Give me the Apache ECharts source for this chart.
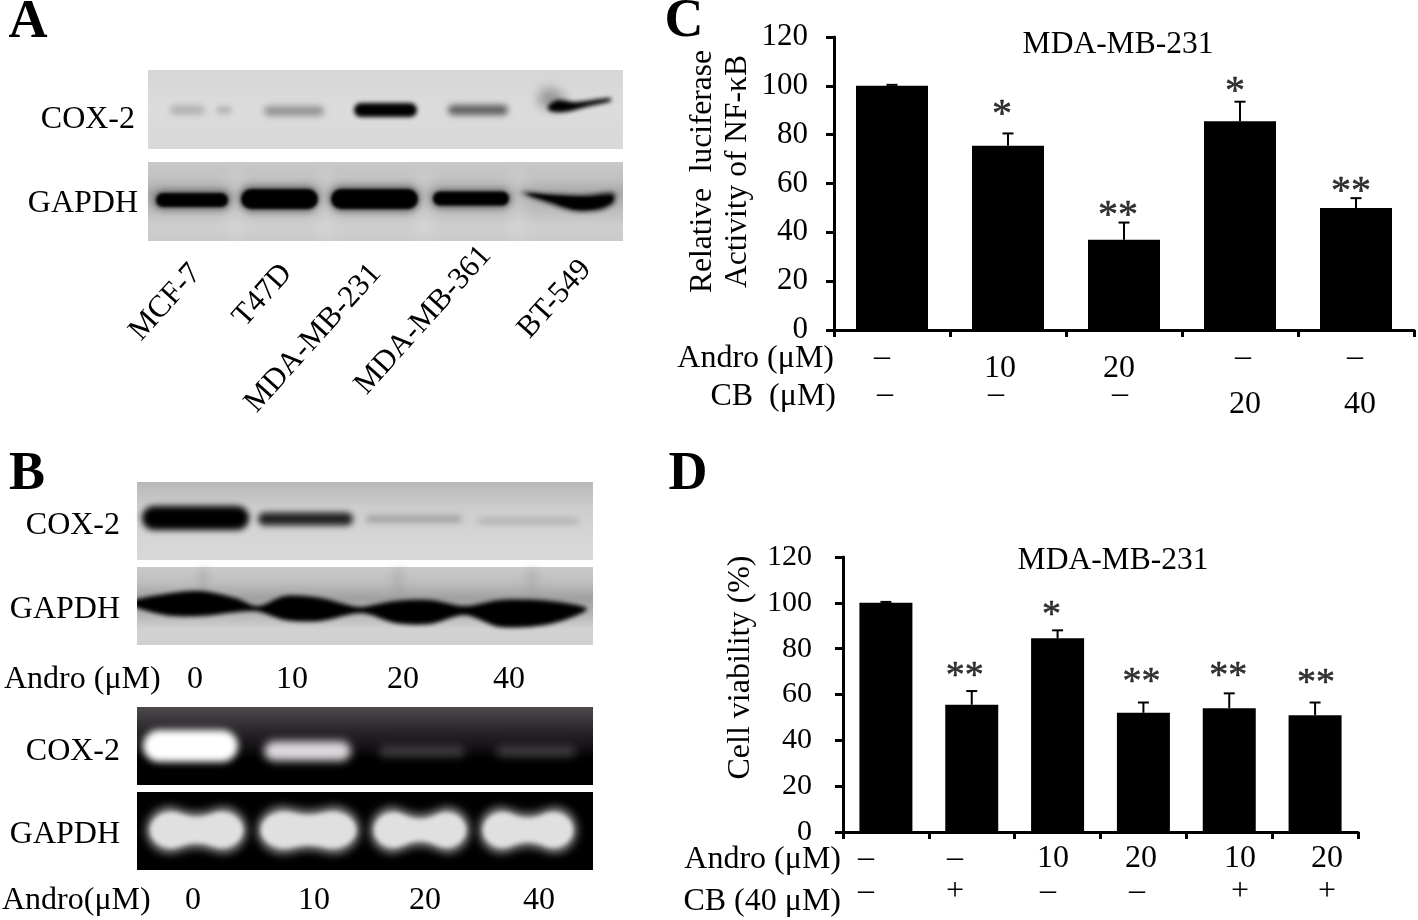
<!DOCTYPE html>
<html><head><meta charset="utf-8">
<style>html,body{margin:0;padding:0;background:#fff}#c{width:1418px;height:920px}</style>
<script src="https://cdn.jsdelivr.net/npm/echarts@6/dist/echarts.min.js"></script>
</head><body><div id="c"></div>
<script>
// ---- Data ----
const catsC = ['1','2','3','4','5'];
const meanC = [100,75.5,37,85.5,50];
const errTopC = [100.4,80.5,44,93.5,54];
const starC = [0,88,46.3,97.4,56.3];
const sigC = ['','*','**','*','**'];
const catsD = ['1','2','3','4','5','6'];
const meanD = [100,55.5,84.5,52,54,51];
const errTopD = [100.4,61.5,88,56.5,60.5,56.5];
const starD = [0,67.5,94.3,64.9,67.5,64.5];
const sigD = ['','**','*','**','**','**'];
const titleCD = 'MDA-MB-231';
const androC = ['–','10','20','–','–'];
const cbC = ['–','–','–','20','40'];
const androD = ['–','–','10','20','10','20'];
const cbD = ['–','+','–','–','+','+'];
const cellLines = ['MCF-7','T47D','MDA-MB-231','MDA-MB-361','BT-549'];
const doseB = ['0','10','20','40'];

// ---- Helpers ----
const F = '"Liberation Serif","Times New Roman",serif';
const FS = 32;
const OFF = 3000; // blurred shapes are drawn off-canvas, only their shadow lands on the picture
const T = (text,x,y,size,o={}) => ({type:'text',x,y:y+1.5,rotation:o.rot||0,z:10,silent:true,
  style:{text,fill:'#000',font:(o.bold?'bold ':'')+size+'px '+F,textAlign:o.align||'center',textVerticalAlign:'middle'}});
const frame = (x,y,w,h,stops) => ({type:'rect',z:1,silent:true,shape:{x,y,width:w,height:h},
  style:{fill:new echarts.graphic.LinearGradient(0,0,0,1,stops.map((c,i)=>({offset:i/(stops.length-1),color:c})))}});
const band = (x0,x1,cy,h,color,b) => ({type:'rect',z:2,silent:true,
  shape:{x:x0-OFF,y:cy-h/2,width:x1-x0,height:h,r:h/2},
  style:{fill:'#000',shadowBlur:b,shadowColor:color,shadowOffsetX:OFF}});
const blob = (pts,color,b,s=0.3) => ({type:'polygon',z:2,silent:true,shape:{points:pts.map(p=>[p[0]-OFF,p[1]]),smooth:s},
  style:{fill:'#000',shadowBlur:b,shadowColor:color,shadowOffsetX:OFF}});
const bow = (x0,x1,cy,hEnd,hMid,color,b) => {
  const m=(x0+x1)/2, e=(x1-x0)*0.16;
  return blob([[x0,cy],[x0+e,cy-hEnd/2],[m,cy-hMid/2],[x1-e,cy-hEnd/2],[x1,cy],[x1-e,cy+hEnd/2],[m,cy+hMid/2],[x0+e,cy+hEnd/2]],color,b,0.45);
};
const mask = (x,y,w,h) => ({type:'rect',z:3,silent:true,shape:{x,y,width:w,height:h},style:{fill:'#fff'}});

const g = [];
// Panel letters
g.push(T('A',28,22,54,{bold:true}),T('B',27,474,54,{bold:true}),T('C',684,21,54,{bold:true}),T('D',688,474,54,{bold:true}));

// Panel A blots
g.push(frame(148,70,475,79,['#d6d6d6','#dcdcdc','#d8d8d8']));
g.push(frame(148,162,475,79,['#c8c8c8','#c2c2c2','#a8a8a8','#bcbcbc','#cecece','#cacaca']));
[236,326,424,518].forEach(x=>g.push(band(x-6,x+6,205,66,'rgba(226,226,226,0.45)',14)));
g.push(band(170,205,110,9,'#b0b0b0',6),band(216,232,110,8,'#b8b8b8',5));
g.push(band(264,324,111,10,'#949494',6));
g.push(band(354,417,110,14,'#000',4));
g.push(band(448,508,110,10,'#5c5c5c',6));
g.push(blob([[540,106],[540,92],[552,88],[566,100],[556,108]],'rgba(130,130,130,0.8)',12));
g.push(blob([[548,106],[558,100],[575,102],[610,98],[611,101],[590,106],[565,112],[550,111]],'#000',4));
g.push(band(153,231,200,19,'#666',7),band(239,319,199,25,'#666',7),band(329,420,199,25,'#666',7),band(431,511,199,18,'#666',7));
g.push(band(156,228,200,14,'#000',3),band(241,318,199,20,'#000',3),band(331,418,199,20,'#000',3),band(433,509,198.5,14,'#000',3));
g.push(blob([[521,192],[548,194],[585,195],[614,193],[614,203],[600,210],[575,211],[548,203]],'#222',5));
g.push(blob([[527,194],[555,196],[585,197],[612,196],[611,202],[597,208],[575,209],[550,201]],'#000',3));
const endA = [[196,267],[287,267],[376,267],[486,249],[586,263]];
cellLines.forEach((s,i)=>g.push(T(s,endA[i][0],endA[i][1],31,{align:'right',rot:48*Math.PI/180})));
g.push(T('COX-2',135,118,FS,{align:'right'}),T('GAPDH',138,202,FS,{align:'right'}));

// Panel B blots
g.push(frame(137,482,456,78,['#b8b8b8','#cdcdcd','#d5d5d5','#d8d8d8']));
g.push(frame(137,567,456,78,['#cacaca','#bebebe','#a0a0a0','#b4b4b4','#d2d2d2','#d0d0d0']));
[203,398,532].forEach(x=>g.push(band(x-4,x+4,582,28,'rgba(150,150,150,0.45)',10)));
g.push(band(142,249,518,24,'#000',6));
g.push(band(258,353,519,13,'#202020',6));
g.push(band(366,462,519,6,'#9a9a9a',6),band(478,578,521,5,'#aaaaaa',6));
g.push(blob([[128,603],[165,594],[200,591],[235,598],[258,606],[285,596],[320,598],[352,606],[362,607],[395,601],[430,600],[465,606],[500,600],[550,601],[587,609],[550,624],[500,627],[465,615],[430,624],[395,623],[362,613],[320,621],[285,620],[255,611],[200,616],[165,615]],'#000',4));
g.push(mask(118,590,19,40));
g.push(frame(137,707,456,78,['#4e4a4e','#3a363a','#262326','#141214','#000000','#000000','#000000']));
g.push(frame(137,792,456,78,['#000000','#000000']));
g.push(band(143,238,746,32,'#ffffff',7),band(264,351,751,20,'#dcd8dc',8),band(379,465,751,12,'#3c383c',8),band(496,576,751,12,'#3c383c',8));
g.push(mask(137,785,456,7));
const gelB=[[148,245,26],[259,358,30],[372,468,22],[481,575,24]];
gelB.forEach(b=>g.push(bow(b[0]-2,b[1]+2,830,44,b[2]+10,'#8a8a8a',9)));
gelB.forEach(b=>g.push(bow(b[0]+2,b[1]-2,830,34,b[2],'#e0e0e0',4)));
g.push(T('COX-2',120,524,FS,{align:'right'}),T('GAPDH',120,608,FS,{align:'right'}),T('COX-2',120,750,FS,{align:'right'}),T('GAPDH',120,833,FS,{align:'right'}));
g.push(T('Andro (μM)',4,678,FS,{align:'left'}),T('Andro(μM)',2,899,FS,{align:'left'}));
const xB1=[195,292,403,509], xB2=[193,314,425,539];
doseB.forEach((s,i)=>{g.push(T(s,xB1[i],678,FS),T(s,xB2[i],899,FS));});

// Panel C text
g.push(T(titleCD,1118,43,31.5),T('Relative  luciferase',703,170,31.5,{rot:Math.PI/2}),T('Activity of NF-κB',738,170,31.5,{rot:Math.PI/2}));
g.push(T('Andro (μM)',834,357,FS,{align:'right'}),T('CB  (μM)',836,395,FS,{align:'right'}));
const xCa=[882,1000,1119,1243,1355], xCb=[885,996,1120,1245,1360];
androC.forEach((s,i)=>g.push(T(s,xCa[i],s==='–'?356:367,FS)));
cbC.forEach((s,i)=>g.push(T(s,xCb[i],s==='–'?393:403,FS)));

// Panel D text
g.push(T(titleCD,1113,559,31.5),T('Cell viability (%)',741,666,32,{rot:Math.PI/2}));
g.push(T('Andro (μM)',841,858,FS,{align:'right'}),T('CB (40 μM)',841,900,FS,{align:'right'}));
const xDa=[866,955,1053,1141,1240,1327], xDb=[866,955,1048,1137,1240,1327];
androD.forEach((s,i)=>g.push(T(s,xDa[i],857,FS)));
cbD.forEach((s,i)=>g.push(T(s,xDb[i],890,FS)));

const errRender = (params,api)=>{
  const x=api.coord([api.value(0),api.value(1)]), y=api.coord([api.value(0),api.value(2)]);
  const st={stroke:'#000',lineWidth:2,fill:null};
  return {type:'group',children:[
    {type:'line',shape:{x1:x[0],y1:x[1],x2:y[0],y2:y[1]},style:st},
    {type:'line',shape:{x1:y[0]-5.5,y1:y[1],x2:y[0]+5.5,y2:y[1]},style:st}]};
};
const xAxis = (gi,cats)=>({type:'category',gridIndex:gi,data:cats,boundaryGap:true,
  axisLine:{show:true,lineStyle:{color:'#000',width:3}},axisTick:{show:true,inside:false,length:7,alignWithLabel:false,lineStyle:{color:'#000',width:3}},axisLabel:{show:false},splitLine:{show:false}});
const yAxis = (gi,fs,mg)=>({type:'value',gridIndex:gi,min:0,max:120,interval:20,
  axisLine:{show:true,lineStyle:{color:'#000',width:3}},axisTick:{show:true,length:8,lineStyle:{color:'#000',width:3}},
  axisLabel:{show:true,color:'#000',fontFamily:F,fontSize:fs,margin:mg,padding:[4,0,0,0]},splitLine:{show:false}});
const bar=(gi,d,w)=>({type:'bar',xAxisIndex:gi,yAxisIndex:gi,data:d,barWidth:w,itemStyle:{color:'#000'},silent:true,animation:false});
const err=(gi,m,t)=>({type:'custom',xAxisIndex:gi,yAxisIndex:gi,data:m.map((v,i)=>[i,v,t[i]]),renderItem:errRender,silent:true,animation:false,z:5});
const stars=(gi,t,sig,dx,fs)=>({type:'scatter',xAxisIndex:gi,yAxisIndex:gi,symbolSize:0,silent:true,animation:false,z:6,
  data:t.map((v,i)=>({value:[i,v],label:{formatter:sig[i],offset:[dx[i],0]}})),
  label:{show:true,position:'inside',color:'#000',fontFamily:F,fontSize:fs,textBorderColor:'#000',textBorderWidth:0.5}});

const chart=echarts.init(document.getElementById('c'),null,{renderer:'canvas'});
chart.setOption({
  animation:false,backgroundColor:'#fff',
  grid:[{left:834,top:37,width:580,height:293},{left:843,top:557,width:515,height:275}],
  xAxis:[xAxis(0,catsC),xAxis(1,catsD)],
  yAxis:[yAxis(0,31,26),yAxis(1,30,31)],
  series:[bar(0,meanC,72),err(0,meanC,errTopC),stars(0,starC,sigC,[0,-6,-6,-5,-5],40),
          bar(1,meanD,53),err(1,meanD,errTopD),stars(1,starD,sigD,[0,-7,-6,-2,-1,1],38)],
  graphic:{elements:g}
});
</script></body></html>
